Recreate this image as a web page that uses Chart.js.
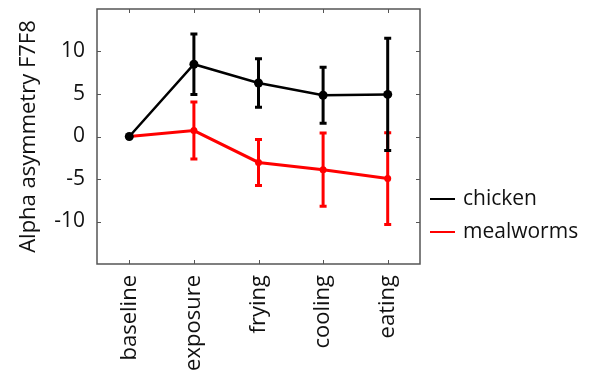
<!DOCTYPE html>
<html>
<head>
<meta charset="utf-8">
<script src="https://cdn.jsdelivr.net/npm/chart.js@4"></script>
<style>
  html, body { margin: 0; padding: 0; background: #fff; }
  #wrap { width: 600px; height: 371px; }
</style>
</head>
<body>
<div id="wrap"><canvas id="chart" width="600" height="371"></canvas></div>
<script>
const stages = ["baseline", "exposure", "frying", "cooling", "eating"];
const chicken = [0, 8.5, 6.3, 4.85, 4.95];
const chickenErr = [0, 3.55, 2.85, 3.3, 6.6];
const mealworms = [0, 0.7, -3.05, -3.9, -4.95];
const mealwormsErr = [0, 3.35, 2.7, 4.3, 5.4];
const yTicks = [-10, -5, 0, 5, 10];

const FONT = "'Open Sans', 'Noto Sans', sans-serif";
const errors = [chickenErr, mealwormsErr];

const errorBars = {
  id: "errorBars",
  beforeDatasetDraw(chart, args) {
    const ctx = chart.ctx;
    const ds = chart.data.datasets[args.index];
    const err = errors[args.index];
    const x = chart.scales.x, y = chart.scales.y;
    ctx.save();
    ctx.strokeStyle = ds.borderColor;
    ctx.lineWidth = 3;
    ds.data.forEach((v, i) => {
      if (!err[i]) return;
      const px = x.getPixelForValue(i);
      const top = y.getPixelForValue(v + err[i]);
      const bot = y.getPixelForValue(v - err[i]);
      ctx.beginPath();
      ctx.moveTo(px, top); ctx.lineTo(px, bot);
      ctx.moveTo(px - 3.5, top); ctx.lineTo(px + 3.5, top);
      ctx.moveTo(px - 3.5, bot); ctx.lineTo(px + 3.5, bot);
      ctx.stroke();
    });
    ctx.restore();
  }
};

const boxAndLegend = {
  id: "boxAndLegend",
  afterDraw(chart) {
    const ctx = chart.ctx;
    const a = chart.chartArea;
    const x = chart.scales.x, y = chart.scales.y;
    ctx.save();
    ctx.strokeStyle = "#555";
    ctx.lineWidth = 1.5;
    ctx.strokeRect(a.left, a.top, a.right - a.left, a.bottom - a.top);
    ctx.lineWidth = 1;
    ctx.beginPath();
    stages.forEach((s, i) => {
      const px = Math.round(x.getPixelForValue(i)) + 0.5;
      ctx.moveTo(px, a.bottom); ctx.lineTo(px, a.bottom - 4);
      ctx.moveTo(px, a.top); ctx.lineTo(px, a.top + 4);
    });
    yTicks.forEach(t => {
      const py = Math.round(y.getPixelForValue(t)) + 0.5;
      ctx.moveTo(a.left, py); ctx.lineTo(a.left + 4, py);
      ctx.moveTo(a.right, py); ctx.lineTo(a.right - 4, py);
    });
    ctx.stroke();

    // legend
    ctx.font = "21px " + FONT;
    ctx.textBaseline = "middle";
    ctx.textAlign = "left";
    chart.data.datasets.forEach((ds, i) => {
      const ly = 199 + i * 33;
      ctx.strokeStyle = ds.borderColor;
      ctx.lineWidth = 2;
      ctx.beginPath();
      ctx.moveTo(430, ly); ctx.lineTo(455, ly);
      ctx.stroke();
      ctx.fillStyle = "#111";
      ctx.fillText(ds.label, 463, ly);
    });
    ctx.restore();
  }
};

new Chart(document.getElementById("chart"), {
  type: "line",
  data: {
    labels: stages,
    datasets: [
      {
        label: "chicken",
        data: chicken,
        borderColor: "#000",
        backgroundColor: "#000",
        borderWidth: 2.5,
        pointRadius: 4.5,
        pointBorderWidth: 0,
        tension: 0
      },
      {
        label: "mealworms",
        data: mealworms,
        borderColor: "#ff0000",
        backgroundColor: "#ff0000",
        borderWidth: 3,
        pointRadius: 3.5,
        pointBorderWidth: 0,
        tension: 0
      }
    ]
  },
  options: {
    responsive: false,
    animation: false,
    events: [],
    layout: { padding: { top: 9, right: 180, left: 0, bottom: 0 } },
    plugins: {
      legend: { display: false },
      tooltip: { enabled: false }
    },
    scales: {
      x: {
        type: "category",
        offset: true,
        grid: { display: false, drawTicks: false },
        border: { display: false },
        ticks: {
          color: "#111",
          font: { family: FONT, size: 22 },
          minRotation: 90,
          maxRotation: 90,
          padding: 11,
          autoSkip: false
        },
        afterFit(scale) {
          scale.height = 107;
          scale.paddingLeft = 0;
          scale.paddingRight = 0;
        }
      },
      y: {
        min: -15,
        max: 15,
        grid: { display: false, drawTicks: false },
        border: { display: false },
        afterBuildTicks(scale) { scale.ticks = yTicks.map(v => ({ value: v })); },
        ticks: {
          color: "#111",
          font: { family: FONT, size: 21 },
          padding: 12
        },
        title: {
          display: true,
          text: "Alpha asymmetry F7F8",
          color: "#111",
          font: { family: FONT, size: 22 },
          padding: { top: 16, bottom: 0 }
        },
        afterFit(scale) {
          scale.width = 97;
          scale.paddingTop = 0;
          scale.paddingBottom = 0;
        }
      }
    }
  },
  plugins: [errorBars, boxAndLegend]
});
</script>
</body>
</html>
